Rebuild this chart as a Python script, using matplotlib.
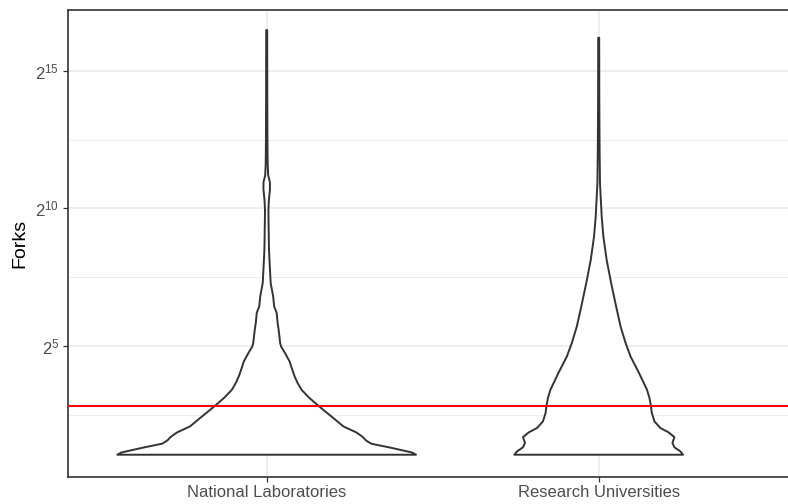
import numpy as np
import matplotlib
matplotlib.use("Agg")
import matplotlib.pyplot as plt
from matplotlib.ticker import FixedLocator, NullFormatter

# data (y in log2(Forks), width = violin half-width as read)
categories = ["National Laboratories", "Research Universities"]
threshold = 7

natlab_log2 = [1.04, 1.12, 1.30, 1.44, 1.55, 1.70, 1.85, 2.07, 2.40, 2.80, 3.10, 3.40,
               3.65, 3.89, 4.15, 4.43, 4.73, 4.97, 5.10, 5.58, 5.82, 6.20, 6.43, 6.79,
               7.28, 7.76, 8.49, 9.40, 9.94, 10.30, 10.70, 10.95, 11.20, 11.60, 12.24,
               14.00, 16.48]
natlab_width = [150, 146, 124, 105, 100, 96, 90, 77, 66, 52.5, 43, 35,
                31, 28, 25.5, 23, 18.5, 14.5, 13.5, 12, 11, 10, 7.5, 6.5,
                4, 3.3, 2.3, 1.9, 1.7, 2.2, 3.3, 3.2, 1.5, 1.0, 0.8,
                0.6, 0.5]

univ_log2 = [1.04, 1.16, 1.31, 1.47, 1.68, 1.85, 2.01, 2.25, 2.56, 2.80, 3.10, 3.40,
             4.01, 4.61, 5.10, 5.70, 6.43, 7.28, 8.12, 8.97, 9.70, 10.91, 12.12,
             14.00, 16.20]
univ_width = [84.7, 82, 76, 74, 76, 70.3, 62, 56, 53.3, 52.5, 51, 48.5,
              40.5, 32, 27, 22, 17.5, 12.5, 8, 4.7, 3, 1.3, 0.9,
              0.6, 0.5]

plt.rcParams['font.family'] = ['Liberation Sans', 'DejaVu Sans']
plt.rcParams['mathtext.fontset'] = 'custom'
plt.rcParams['mathtext.rm'] = 'Liberation Sans'
plt.rcParams['mathtext.it'] = 'Liberation Sans'

fig = plt.figure(figsize=(7.88, 5.04), dpi=100)
ax = fig.add_axes([67.5 / 788, 27 / 504, 730.4 / 788, 467 / 504])

# scale="area": widest violin gets half-width 0.45
wmax = max(max(natlab_width), max(univ_width))
for i, (lv, wd) in enumerate([(natlab_log2, natlab_width), (univ_log2, univ_width)]):
    pos = i + 1
    y = 2 ** np.array(lv)
    w = np.array(wd) / wmax * 0.45
    xs = np.concatenate([pos - w, (pos + w)[::-1]])
    ys = np.concatenate([y, y[::-1]])
    ax.fill(xs, ys, facecolor='white', edgecolor='#333333', lw=1.4, zorder=3,
            joinstyle='round')

ax.axhline(threshold, color='red', lw=1.5, zorder=4)

ax.set_yscale('log', base=2)
ax.set_ylim(2 ** 0.23, 2 ** 17.21)
ax.set_xlim(0.4, 2.6)

ax.yaxis.set_major_locator(FixedLocator([2 ** 5, 2 ** 10, 2 ** 15]))
ax.set_yticklabels(['$2^{5}$', '$2^{10}$', '$2^{15}$'])
ax.yaxis.set_minor_locator(FixedLocator([2 ** 2.5, 2 ** 7.5, 2 ** 12.5]))
ax.yaxis.set_minor_formatter(NullFormatter())
ax.set_xticks([1, 2])
ax.set_xticklabels(categories)

ax.tick_params(which='major', length=3.5, width=0.9, color='#333333',
               labelcolor='#4D4D4D', labelsize=12, pad=2.5)
ax.tick_params(which='minor', length=0)

ax.grid(which='major', color='#EBEBEB', lw=1.2)
ax.grid(which='minor', axis='y', color='#EBEBEB', lw=0.6)
ax.set_axisbelow(True)

for s in ax.spines.values():
    s.set_color('#333333')
    s.set_linewidth(1.2)

ax.set_ylabel('Forks', fontsize=14, color='black', labelpad=5)

fig.savefig('out.png', dpi=100)
